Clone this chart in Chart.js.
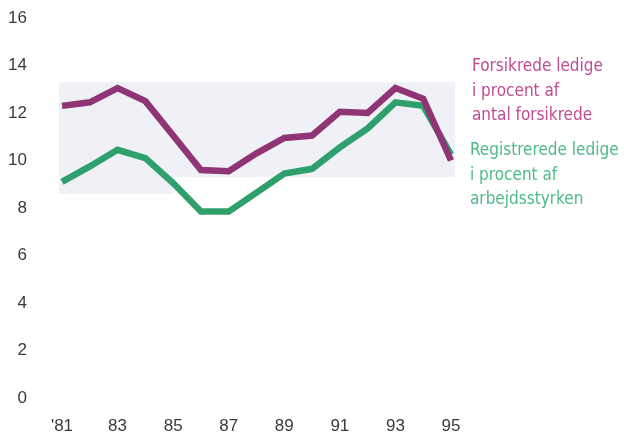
<!DOCTYPE html>
<html>
<head>
<meta charset="utf-8">
<script src="https://cdn.jsdelivr.net/npm/chart.js@4"></script>
<style>
  html, body { margin: 0; padding: 0; background: #fff; }
  #wrap { width: 624px; height: 438px; }
</style>
</head>
<body>
<div id="wrap"><canvas id="graf"></canvas></div>
<script>
// Data
const aar = ['81', '82', '83', '84', '85', '86', '87', '88', '89', '90', '91', '92', '93', '94', '95'];
const aarEtiketter = ["'81", '', '83', '', '85', '', '87', '', '89', '', '91', '', '93', '', '95'];
const forsikrede = [12.3, 12.45, 13.05, 12.5, 11.05, 9.6, 9.55, 10.3, 10.95, 11.05, 12.05, 12.0, 13.05, 12.6, 10.0];
const registrerede = [9.1, 9.75, 10.45, 10.1, 9.05, 7.85, 7.85, 8.65, 9.45, 9.65, 10.55, 11.35, 12.45, 12.3, 10.25];

const lilla = '#8f3575';
const groen = '#2f9f6c';

// Lys baggrundsflade bag kurverne + tekster til højre
const pynt = {
    id: 'pynt',
    beforeDatasetsDraw(chart) {
        const { ctx, scales: { x, y } } = chart;
        ctx.save();
        ctx.fillStyle = '#eff1f6';
        const x0 = x.getPixelForValue(0) - 3;
        const x1 = x.getPixelForValue(14) + 4;
        const xm = x.getPixelForValue(4);
        const top = y.getPixelForValue(13.3);
        ctx.fillRect(x0, top, xm - x0, y.getPixelForValue(8.6) - top);
        ctx.fillRect(xm, top, x1 - xm, y.getPixelForValue(9.3) - top);
        ctx.restore();
    },
    afterDraw(chart) {
        const { ctx } = chart;
        ctx.save();
        ctx.font = '17px "Liberation Sans Narrow", "DejaVu Sans Condensed", sans-serif';
        ctx.textBaseline = 'middle';
        ctx.textAlign = 'left';
        ctx.fillStyle = '#c04b8f';
        ['Forsikrede ledige', 'i procent af', 'antal forsikrede'].forEach((t, i) => ctx.fillText(t, 472, 67 + i * 24.5));
        ctx.fillStyle = '#4dbb86';
        ['Registrerede ledige', 'i procent af', 'arbejdsstyrken'].forEach((t, i) => ctx.fillText(t, 470, 151 + i * 24.5));
        ctx.restore();
    }
};

const ctx = document.getElementById('graf').getContext('2d');
new Chart(ctx, {
    type: 'line',
    data: {
        labels: aar,
        datasets: [{
            label: 'Forsikrede ledige',
            data: forsikrede,
            borderColor: lilla,
            borderWidth: 6.5,
            pointRadius: 0,
            tension: 0,
            order: 0
        },
        {
            label: 'Registrerede ledige',
            data: registrerede,
            borderColor: groen,
            borderWidth: 6.5,
            pointRadius: 0,
            tension: 0,
            order: 1
        }]
    },
    options: {
        responsive: true,
        maintainAspectRatio: false,
        animation: false,
        layout: { padding: { top: 0, right: 173, bottom: 0, left: 0 } },
        plugins: { legend: { display: false }, tooltip: { enabled: false } },
        scales: {
            x: {
                offset: false,
                grid: { display: false },
                border: { display: false },
                afterFit: s => { s.height = 40; },
                ticks: {
                    autoSkip: false,
                    maxRotation: 0,
                    padding: 10,
                    color: '#3a3a3a',
                    font: { size: 17, family: '"Liberation Sans", sans-serif' },
                    callback: (v, i) => aarEtiketter[i]
                }
            },
            y: {
                min: 0,
                max: 16,
                grid: { display: false },
                border: { display: false },
                afterFit: s => { s.width = 62; s.paddingTop = 18; s.paddingBottom = 0; },
                ticks: {
                    stepSize: 2,
                    padding: 27,
                    color: '#3a3a3a',
                    font: { size: 17, family: '"Liberation Sans", sans-serif' }
                }
            }
        }
    },
    plugins: [pynt]
});
</script>
</body>
</html>
